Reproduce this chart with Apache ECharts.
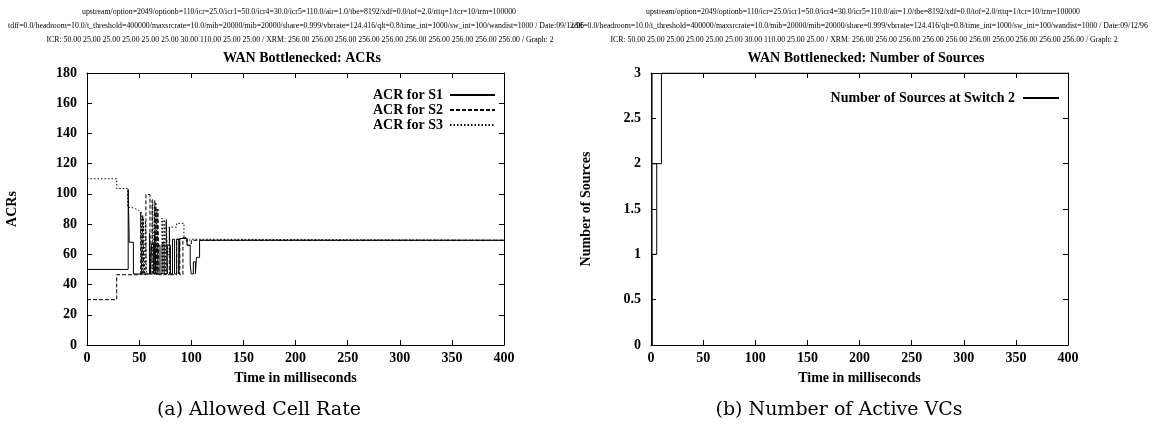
<!DOCTYPE html>
<html>
<head>
<meta charset="UTF-8">
<title>WAN Bottlenecked</title>
<script src="https://cdn.jsdelivr.net/npm/echarts@6/dist/echarts.min.js"></script>
<style>
  html, body { margin: 0; padding: 0; background: #fff; }
  #main { width: 1162px; height: 436px; }
</style>
</head>
<body>
<div id="main"></div>
<script>
// ACR traces, [time ms, ACR] step points (value holds until next time)
var acrS1 = [[0,50],[39.5,103],[40.5,68],[44.5,47],[60,74],[61,47],[62,67],[64,47],[65,73],[66,47],
  [68,66],[70,47],[72,67],[74,47],[77,66],[80,47],[82,70],[84,47],[86,70],[88,47],[89,70.5],
  [93,70.5],[96,66],[99,53],[100,47],[102,55],[104,47],[105,58],[108,69.3],[400,69.3]];
var acrS2 = [[0,30],[28.5,46.5],[51.5,88],[52.5,46.5],[53.5,86],[54.5,46.5],[56.5,99.6],[60.4,46.5],
  [62.4,96],[65,46.5],[66,94],[67,46.5],[68,90],[69,46.5],[76,83],[77,46.5],[79,78],[80,46.5],
  [86,70],[89,46.5],[92,71],[96,66],[100,69.3],[400,69.3]];
var acrS3 = [[0,110],[28.5,103.5],[39,91],[43,90],[47,89],[50,88],[52,86],[53,47],[54,84],[55,47],
  [56,82],[57,47],[63,95],[64,47],[65,93],[66,47],[67,90],[68,47],[72,84],[73,47],[74,83],[75,47],
  [76,81],[77,60],[79,78],[86,80.5],[93,71],[95,69],[97,70],[100,69.3],[400,69.3]];
// number of sources at switch 2, drawn as traced path
var numSources = [[1,3],[1,0],[1,1],[5.5,1],[5.5,2],[1,2],[10,2],[10,3],[400,3]];

var acrNames = ['ACR for S1', 'ACR for S2', 'ACR for S3'];
var srcName = 'Number of Sources at Switch 2';

var headLine1 = 'upstream/option=2049/optionb=110/icr=25.0/icr1=50.0/icr4=30.0/icr5=110.0/air=1.0/tbe=8192/xdf=0.0/tof=2.0/rttq=1/tcr=10/trm=100000';
var headLine2 = 'tdff=0.0/headroom=10.0/t_threshold=400000/maxsrcrate=10.0/mib=20000/mib=20000/share=0.999/vbrrate=124.416/qlt=0.8/time_int=1000/sw_int=100/wandist=1000 / Date:09/12/96';
var headLine3 = 'ICR: 50.00 25.00 25.00 25.00 25.00 25.00 30.00 110.00 25.00 25.00 / XRM: 256.00 256.00 256.00 256.00 256.00 256.00 256.00 256.00 256.00 256.00 / Graph: 2';

var myChart = echarts.init(document.getElementById('main'));

var serif = 'Liberation Serif';
var lblStyle = { color: '#000', fontFamily: serif, fontWeight: 'bold', fontSize: 14 };
var lineAx = { show: true, onZero: false, lineStyle: { color: '#000', width: 1 } };
var tickAx = { show: true, inside: true, length: 5, lineStyle: { color: '#000', width: 1 } };

function mainX(grid, name) {
    return { gridIndex: grid, type: 'value', min: 0, max: 400, interval: 50, position: 'bottom',
        name: name, nameLocation: 'middle', nameGap: 26, nameTextStyle: lblStyle,
        axisLine: lineAx, axisTick: tickAx, axisLabel: Object.assign({ margin: 6 }, lblStyle),
        splitLine: { show: false } };
}
function mirrorX(grid) {
    return { gridIndex: grid, type: 'value', min: 0, max: 400, interval: 50, position: 'top',
        axisLine: lineAx, axisTick: tickAx, axisLabel: { show: false }, splitLine: { show: false } };
}
function mainY(grid, max, step, name, gap) {
    return { gridIndex: grid, type: 'value', min: 0, max: max, interval: step, position: 'left',
        name: name, nameLocation: 'middle', nameGap: gap, nameRotate: 90, nameTextStyle: lblStyle,
        axisLine: lineAx, axisTick: tickAx, axisLabel: Object.assign({ margin: 10 }, lblStyle),
        splitLine: { show: false } };
}
function mirrorY(grid, max, step) {
    return { gridIndex: grid, type: 'value', min: 0, max: max, interval: step, position: 'right',
        axisLine: lineAx, axisTick: tickAx, axisLabel: { show: false }, splitLine: { show: false } };
}
function headText(x, y, txt) {
    return { type: 'text', x: x, y: y, style: { text: txt, fill: '#000', font: '7.8px "Liberation Serif"',
        textAlign: 'center', textVerticalAlign: 'middle' } };
}

// legend shows only the line sample, no marker
var noMark = { color: '#000', opacity: 0 };

var option = {
    backgroundColor: '#fff',
    animation: false,
    title: [
        { text: 'WAN Bottlenecked: ACRs', left: 297, top: 46, textAlign: 'center', textStyle: lblStyle },
        { text: 'WAN Bottlenecked: Number of Sources', left: 861, top: 46, textAlign: 'center', textStyle: lblStyle }
    ],
    legend: [
        { data: acrNames, orient: 'vertical', right: 666, top: 88, padding: 0, align: 'right', itemWidth: 45, itemHeight: 14,
          itemGap: 1, itemStyle: { opacity: 0 }, textStyle: Object.assign({ padding: [0, 2, 0, 0] }, lblStyle) },
        { data: [srcName], orient: 'vertical', right: 102, top: 91, padding: 0, align: 'right', itemWidth: 36, itemHeight: 14,
          itemStyle: { opacity: 0 }, textStyle: Object.assign({ padding: [0, 3, 0, 0] }, lblStyle) }
    ],
    grid: [
        { left: 87, right: 658, top: 73, bottom: 91 },
        { left: 651, right: 94, top: 73, bottom: 91 }
    ],
    xAxis: [mainX(0, 'Time in milliseconds'), mirrorX(0), mainX(1, 'Time in milliseconds'), mirrorX(1)],
    yAxis: [mainY(0, 180, 20, 'ACRs', 68), mirrorY(0, 180, 20), mainY(1, 3, 0.5, 'Number of Sources', 58), mirrorY(1, 3, 0.5)],
    series: [
        { name: acrNames[0], type: 'line', xAxisIndex: 0, yAxisIndex: 0, step: 'end', symbol: 'none',
          data: acrS1, lineStyle: { color: '#000', width: 1, type: 'solid' }, itemStyle: noMark },
        { name: acrNames[1], type: 'line', xAxisIndex: 0, yAxisIndex: 0, step: 'end', symbol: 'none',
          data: acrS2, lineStyle: { color: '#000', width: 1, type: [4, 2] }, itemStyle: noMark },
        { name: acrNames[2], type: 'line', xAxisIndex: 0, yAxisIndex: 0, step: 'end', symbol: 'none',
          data: acrS3, lineStyle: { color: '#000', width: 1, type: [1.5, 2] }, itemStyle: noMark },
        { name: srcName, type: 'line', xAxisIndex: 2, yAxisIndex: 2, symbol: 'none',
          data: numSources, lineStyle: { color: '#000', width: 1 }, itemStyle: noMark }
    ],
    graphic: [
        headText(299, 12, headLine1), headText(296, 26, headLine2), headText(300, 40, headLine3),
        headText(863, 12, headLine1), headText(860, 26, headLine2), headText(864, 40, headLine3),
        { type: 'text', x: 259, y: 410, style: { text: '(a) Allowed Cell Rate', fill: '#000',
            font: '19px "DejaVu Serif"', textAlign: 'center', textVerticalAlign: 'middle' } },
        { type: 'text', x: 839, y: 410, style: { text: '(b) Number of Active VCs', fill: '#000',
            font: '19px "DejaVu Serif"', textAlign: 'center', textVerticalAlign: 'middle' } }
    ]
};

myChart.setOption(option);
</script>
</body>
</html>
